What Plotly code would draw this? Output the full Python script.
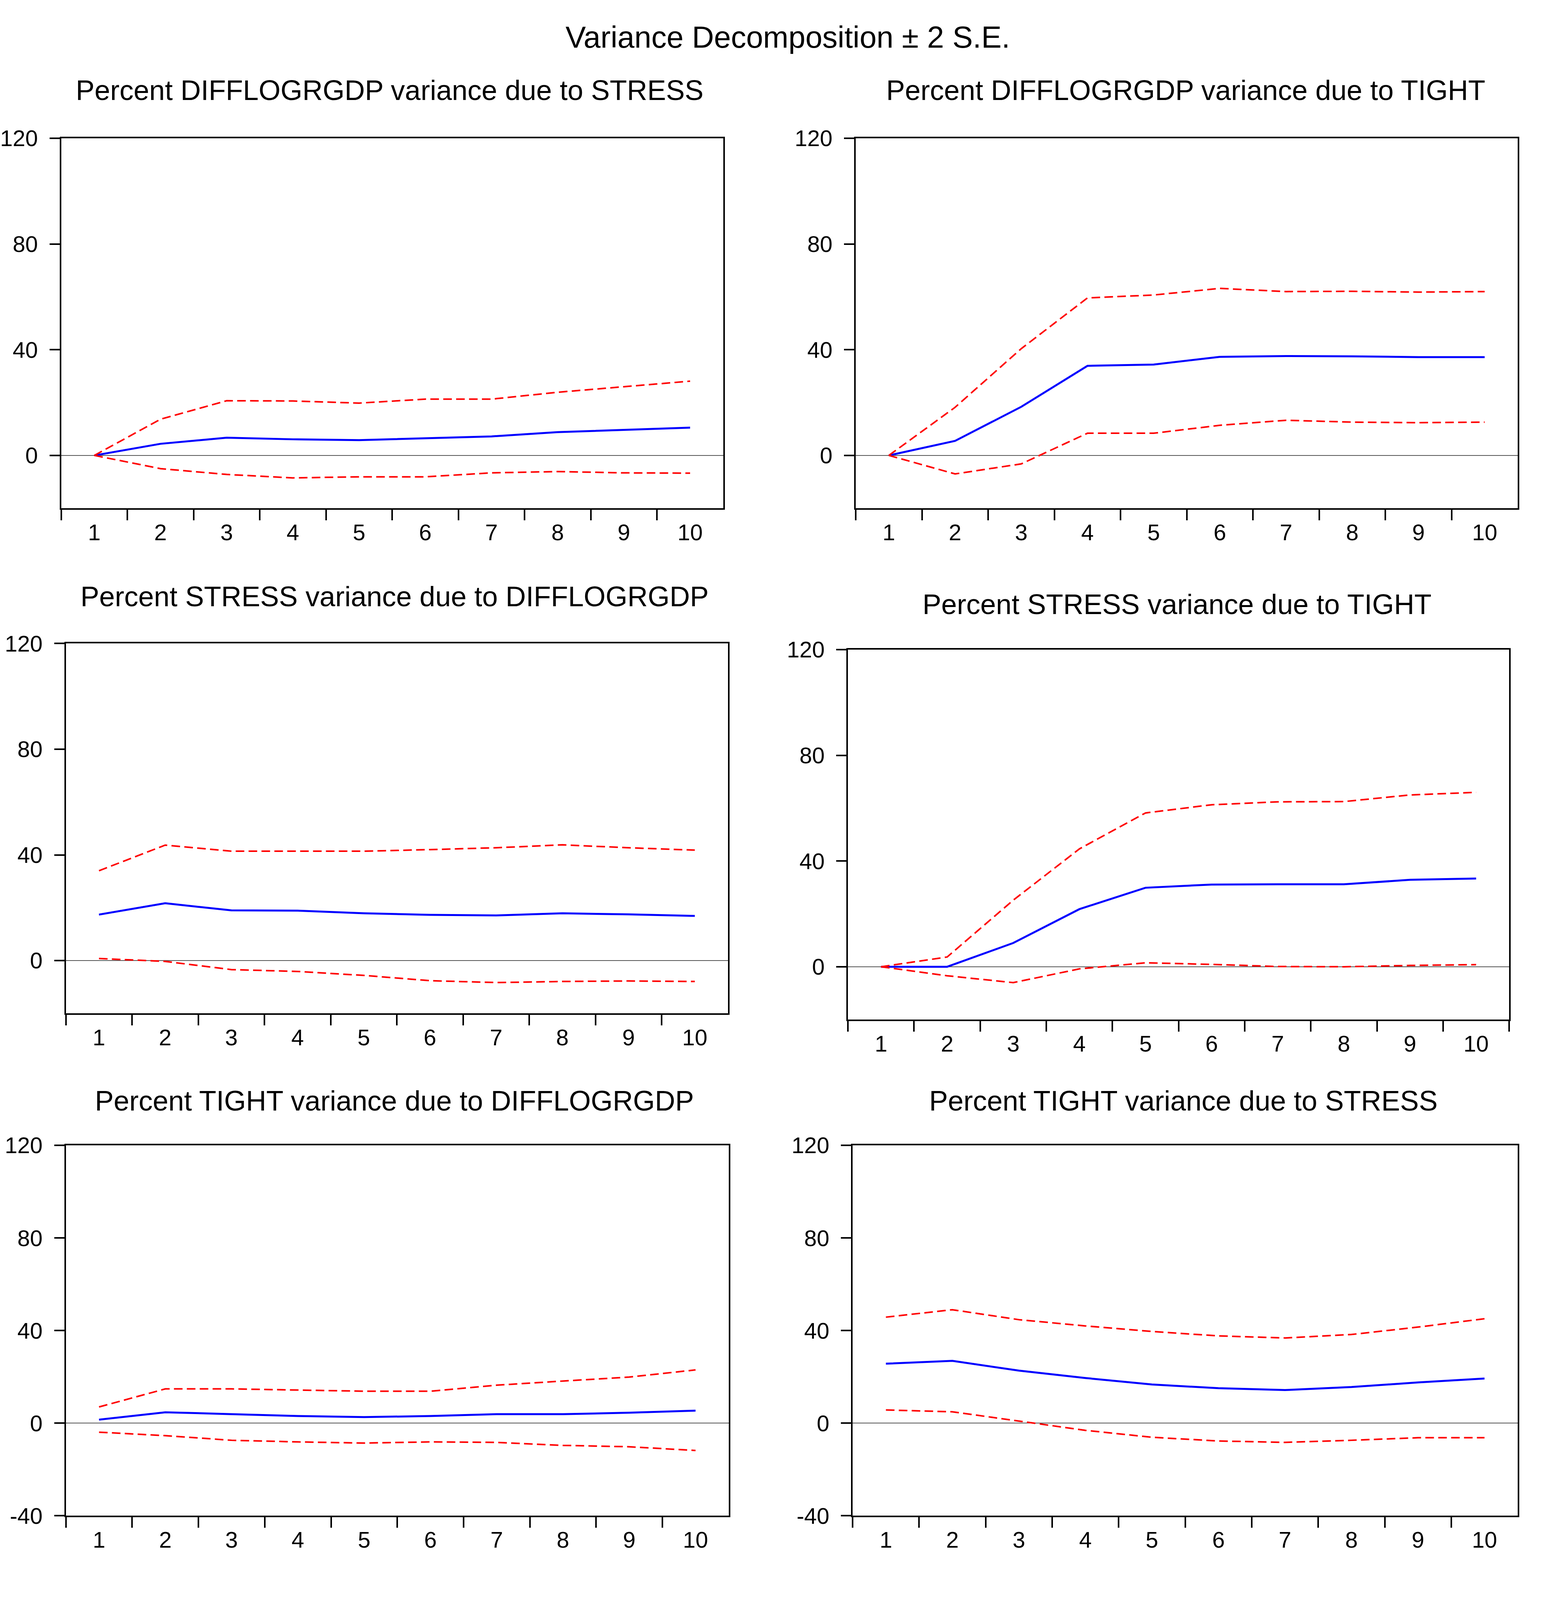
import plotly.graph_objects as go

W, H = 3961, 4345

periods = ['1', '2', '3', '4', '5', '6', '7', '8', '9', '10']

# Percent DIFFLOGRGDP variance due to STRESS
gdp_stress = [0.0, 4.4, 6.7, 6.1, 5.8, 6.5, 7.2, 8.8, 9.7, 10.5]
gdp_stress_hi = [0.0, 13.7, 20.7, 20.6, 19.8, 21.3, 21.3, 23.9, 26.0, 28.1]
gdp_stress_lo = [0.0, -5.0, -7.2, -8.5, -8.1, -8.1, -6.6, -6.1, -6.6, -6.7]

# Percent DIFFLOGRGDP variance due to TIGHT
gdp_tight = [0.0, 5.5, 18.4, 33.9, 34.4, 37.3, 37.6, 37.5, 37.2, 37.2]
gdp_tight_hi = [0.0, 18.2, 40.4, 59.6, 60.7, 63.2, 62.0, 62.1, 61.8, 62.0]
gdp_tight_lo = [0.0, -7.0, -3.2, 8.4, 8.4, 11.4, 13.3, 12.6, 12.4, 12.6]

# Percent STRESS variance due to DIFFLOGRGDP
stress_gdp = [17.4, 21.7, 19.0, 18.9, 17.9, 17.3, 17.1, 17.9, 17.5, 16.9]
stress_gdp_hi = [34.0, 43.7, 41.4, 41.4, 41.4, 42.0, 42.7, 43.8, 42.7, 41.8]
stress_gdp_lo = [0.8, -0.3, -3.4, -4.1, -5.6, -7.6, -8.3, -7.9, -7.7, -7.9]

# Percent STRESS variance due to TIGHT
stress_tight = [0.0, 0.0, 9.0, 21.8, 29.9, 31.1, 31.2, 31.2, 32.9, 33.4]
stress_tight_hi = [0.0, 3.7, 25.2, 44.6, 58.2, 61.3, 62.4, 62.5, 65.0, 66.0]
stress_tight_lo = [0.0, -3.4, -6.0, -0.8, 1.5, 0.9, 0.1, 0.0, 0.5, 0.8]

# Percent TIGHT variance due to DIFFLOGRGDP
tight_gdp = [1.5, 4.7, 3.9, 3.1, 2.6, 3.1, 3.9, 3.9, 4.5, 5.4]
tight_gdp_hi = [7.0, 14.8, 14.8, 14.3, 13.8, 13.8, 16.4, 18.2, 19.9, 23.0]
tight_gdp_lo = [-3.9, -5.4, -7.4, -8.1, -8.6, -8.1, -8.3, -9.6, -10.2, -11.8]

# Percent TIGHT variance due to STRESS
tight_stress = [25.7, 26.9, 22.7, 19.5, 16.7, 15.1, 14.3, 15.6, 17.6, 19.3]
tight_stress_hi = [45.8, 49.0, 44.7, 42.0, 39.6, 37.7, 36.8, 38.3, 41.5, 45.1]
tight_stress_lo = [5.7, 4.9, 0.9, -3.1, -6.1, -7.7, -8.3, -7.4, -6.3, -6.3]

ticks_a = [0, 40, 80, 120]
ticks_b = [-40, 0, 40, 80, 120]

# title, series, y range, y ticks, box (left, top, right, bottom in px), title centre (x, y px)
panels = [
    ('Percent DIFFLOGRGDP variance due to STRESS', gdp_stress, gdp_stress_hi, gdp_stress_lo,
     [-20, 120], ticks_a, (150, 346, 1848, 1367), (992, 213)),
    ('Percent DIFFLOGRGDP variance due to TIGHT', gdp_tight, gdp_tight_hi, gdp_tight_lo,
     [-20, 120], ticks_a, (2188, 346, 3886, 1367), (3034, 213)),
    ('Percent STRESS variance due to DIFFLOGRGDP', stress_gdp, stress_gdp_hi, stress_gdp_lo,
     [-20, 120], ticks_a, (162, 1740, 1860, 2761), (1005, 1610)),
    ('Percent STRESS variance due to TIGHT', stress_tight, stress_tight_hi, stress_tight_lo,
     [-20, 120], ticks_a, (2168, 1757, 3864, 2778), (3012, 1632)),
    ('Percent TIGHT variance due to DIFFLOGRGDP', tight_gdp, tight_gdp_hi, tight_gdp_lo,
     [-40, 120], ticks_b, (162, 3125, 1862, 4147), (1005, 3002)),
    ('Percent TIGHT variance due to STRESS', tight_stress, tight_stress_hi, tight_stress_lo,
     [-40, 120], ticks_b, (2180, 3125, 3886, 4147), (3028, 3002)),
]

FONT = 'Arial, Liberation Sans, sans-serif'

fig = go.Figure()
annotations = [dict(text='Variance Decomposition \u00b1 2 S.E.', x=2014 / W, y=1 - 67 / H,
                    xref='paper', yref='paper', xanchor='center', yanchor='middle',
                    showarrow=False, font=dict(size=78, color='black', family=FONT))]
layout = {}

for i, (title, mid, hi, lo, yrange, yticks, box, tpos) in enumerate(panels, start=1):
    suf = '' if i == 1 else str(i)
    xa, ya = 'x' + suf, 'y' + suf
    fig.add_trace(go.Scatter(x=periods, y=mid, mode='lines', xaxis=xa, yaxis=ya,
                             line=dict(color='#0000FF', width=5), showlegend=False))
    for band in (hi, lo):
        fig.add_trace(go.Scatter(x=periods, y=band, mode='lines', xaxis=xa, yaxis=ya,
                                 line=dict(color='#FF0000', width=4, dash='22px,11px'),
                                 showlegend=False))
    left, top, right, bottom = box
    layout['xaxis' + suf] = dict(
        domain=[left / W, right / W], anchor=ya, type='category', tickson='boundaries',
        range=[-0.5, 9.5], showline=True, mirror=True, linecolor='black', linewidth=4,
        ticks='outside', ticklen=27, tickwidth=3.5, tickcolor='black', showgrid=False,
        zeroline=False, ticklabelstandoff=8,
        tickfont=dict(size=58, color='black', family=FONT))
    layout['yaxis' + suf] = dict(
        domain=[1 - bottom / H, 1 - top / H], anchor=xa, range=yrange,
        tickmode='array', tickvals=yticks, ticktext=[str(v) for v in yticks],
        showline=True, mirror=True, linecolor='black',
        linewidth=4, ticks='outside', ticklen=26, tickwidth=3.5, tickcolor='black',
        showgrid=False, zeroline=True, zerolinecolor='#555555', zerolinewidth=2,
        ticklabelstandoff=18, tickfont=dict(size=58, color='black', family=FONT))
    annotations.append(dict(text=title, x=tpos[0] / W, y=1 - tpos[1] / H,
                            xref='paper', yref='paper', xanchor='center', yanchor='middle',
                            showarrow=False, font=dict(size=72, color='black', family=FONT)))

fig.update_layout(**layout)
fig.update_layout(
    autosize=True,
    margin=dict(l=0, r=0, t=0, b=0),
    paper_bgcolor='white', plot_bgcolor='white',
    annotations=annotations,
)

# the figure fills the browser window, so drop the default page margin
fit_js = """
document.body.style.margin = '0';
document.body.style.overflow = 'hidden';
Plotly.Plots.resize(document.getElementById('{plot_id}'));
"""

fig.write_html("out.html", default_width='100vw', default_height='100vh',
               config={'responsive': True, 'displayModeBar': False}, post_script=fit_js)
